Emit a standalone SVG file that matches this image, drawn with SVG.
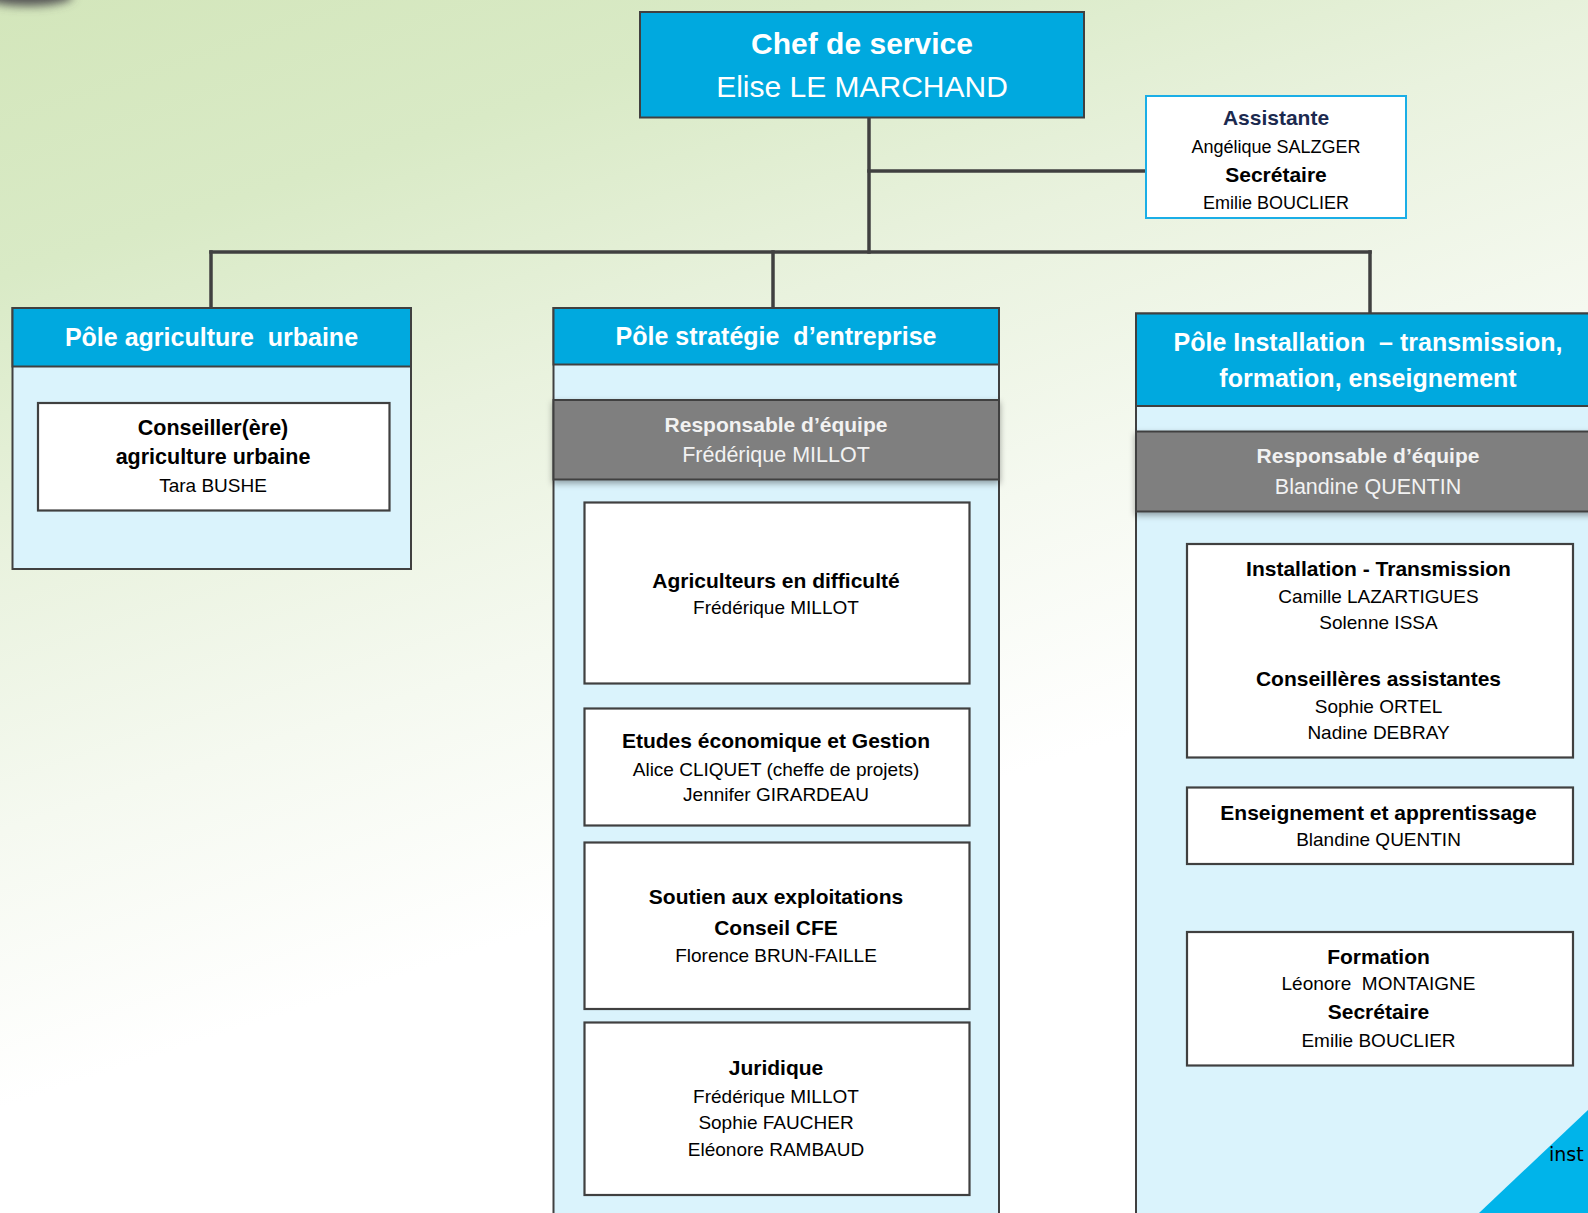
<svg xmlns="http://www.w3.org/2000/svg" width="1588" height="1213" viewBox="0 0 1588 1213">
<defs>
<linearGradient id="bg" gradientUnits="userSpaceOnUse" x1="0" y1="0" x2="330" y2="1000">
<stop offset="0" stop-color="#d3e6bb"/>
<stop offset="0.25" stop-color="#d9eac6"/>
<stop offset="0.5" stop-color="#e9f2de"/>
<stop offset="0.75" stop-color="#f5f9f0"/>
<stop offset="1" stop-color="#ffffff"/>
</linearGradient>
<filter id="blur" x="-50%" y="-100%" width="200%" height="300%"><feGaussianBlur stdDeviation="5"/></filter>
<filter id="shadow" x="-5%" y="-20%" width="110%" height="150%"><feDropShadow dx="0" dy="3" stdDeviation="3" flood-color="#000" flood-opacity="0.35"/></filter>
<style>
.t{font-family:"Liberation Sans",Arial,sans-serif;text-anchor:middle}
.b{font-weight:bold}
.w{fill:#ffffff}
.k{fill:#000000}
.bw{fill:#f2f2f2}
.hdr{fill:#00a9df;stroke:#404040;stroke-width:2}
.body{fill:#daf3fc;stroke:#404040;stroke-width:2}
.band{fill:#7f7f7f;stroke:#404040;stroke-width:2}
.box{fill:#ffffff;stroke:#404040;stroke-width:2.2}
.con{stroke:#404040;stroke-width:3.5;fill:none;stroke-linecap:square}
.f30{font-size:30px}.f25{font-size:25px}.f21{font-size:21px}.f215{font-size:21.5px}.f19{font-size:19px}.f18{font-size:18px}
</style>
</defs>
<rect x="0" y="0" width="1588" height="1213" fill="url(#bg)"/>
<ellipse cx="28" cy="-4" rx="45" ry="10" fill="#555" filter="url(#blur)"/>

<g id="connectors">
<line class="con" x1="869" y1="118" x2="869" y2="252"/>
<line class="con" x1="869" y1="171" x2="1146" y2="171"/>
<line class="con" x1="211" y1="252" x2="1370" y2="252"/>
<line class="con" x1="211" y1="252" x2="211" y2="308"/>
<line class="con" x1="773" y1="252" x2="773" y2="308"/>
<line class="con" x1="1370" y1="252" x2="1370" y2="313"/>
</g>

<g id="chef">
<rect class="hdr" x="640" y="12" width="444" height="105.5"/>
<text class="t b w f30" x="862" y="54">Chef de service</text>
<text class="t w f30" x="862" y="96.5">Elise LE MARCHAND</text>
</g>

<g id="assistante">
<rect x="1146" y="96" width="260" height="122" fill="#ffffff" stroke="#1aaee6" stroke-width="2"/>
<text class="t b f21" x="1276" y="125" fill="#1c2a4f">Assistante</text>
<text class="t k f18" x="1276" y="153">Angélique SALZGER</text>
<text class="t b k f21" x="1276" y="181.5">Secrétaire</text>
<text class="t k f18" x="1276" y="209">Emilie BOUCLIER</text>
</g>

<g id="pole-agriculture-urbaine">
<rect class="body" x="12.5" y="308" width="398.5" height="261"/>
<rect class="hdr" x="12.5" y="308" width="398.5" height="58.5"/>
<text class="t b w f25" x="211.5" y="346">Pôle agriculture &#160;urbaine</text>
</g>
<g id="conseiller-agri-urbaine">
<rect class="box" x="38" y="403" width="351.5" height="107.5"/>
<text class="t b k f215" x="213" y="435">Conseiller(ère)</text>
<text class="t b k f215" x="213" y="464">agriculture urbaine</text>
<text class="t k f19" x="213" y="491.5">Tara BUSHE</text>
</g>

<g id="pole-strategie">
<rect class="body" x="553.5" y="308" width="445.5" height="930"/>
<rect class="hdr" x="553.5" y="308" width="445.5" height="56.5"/>
<text class="t b w f25" x="776" y="345">Pôle stratégie &#160;d’entreprise</text>
</g>
<g id="resp-strategie">
<rect class="band" x="553.5" y="400" width="445.5" height="79.5" filter="url(#shadow)"/>
<text class="t b bw f21" x="776" y="432">Responsable d’équipe</text>
<text class="t bw f215" x="776" y="462">Frédérique MILLOT</text>
</g>
<g id="agriculteurs-difficulte">
<rect class="box" x="584.5" y="502.5" width="385" height="181"/>
<text class="t b k f21" x="776" y="587.5">Agriculteurs en difficulté</text>
<text class="t k f19" x="776" y="614">Frédérique MILLOT</text>
</g>
<g id="etudes-economique">
<rect class="box" x="584.5" y="708.5" width="385" height="117"/>
<text class="t b k f21" x="776" y="748">Etudes économique et Gestion</text>
<text class="t k f19" x="776" y="776">Alice CLIQUET (cheffe de projets)</text>
<text class="t k f19" x="776" y="801">Jennifer GIRARDEAU</text>
</g>
<g id="soutien-exploitations">
<rect class="box" x="584.5" y="842.5" width="385" height="166.5"/>
<text class="t b k f21" x="776" y="904">Soutien aux exploitations</text>
<text class="t b k f21" x="776" y="934.5">Conseil CFE</text>
<text class="t k f19" x="776" y="961.5">Florence BRUN-FAILLE</text>
</g>
<g id="juridique">
<rect class="box" x="584.5" y="1022.5" width="385" height="172.5"/>
<text class="t b k f21" x="776" y="1075">Juridique</text>
<text class="t k f19" x="776" y="1102.5">Frédérique MILLOT</text>
<text class="t k f19" x="776" y="1129">Sophie FAUCHER</text>
<text class="t k f19" x="776" y="1155.5">Eléonore RAMBAUD</text>
</g>

<g id="pole-installation">
<rect class="body" x="1136" y="313.5" width="480" height="930"/>
<rect class="hdr" x="1136" y="313.5" width="480" height="92.5"/>
<text class="t b w f25" x="1368" y="351">Pôle Installation &#160;– transmission,</text>
<text class="t b w f25" x="1368" y="386.5">formation, enseignement</text>
</g>
<g id="resp-installation">
<rect class="band" x="1136" y="431.5" width="480" height="80" filter="url(#shadow)"/>
<text class="t b bw f21" x="1368" y="463">Responsable d’équipe</text>
<text class="t bw f215" x="1368" y="494">Blandine QUENTIN</text>
</g>
<g id="installation-transmission">
<rect class="box" x="1187" y="544" width="386" height="213.5"/>
<text class="t b k f21" x="1378.5" y="576">Installation - Transmission</text>
<text class="t k f19" x="1378.5" y="603">Camille LAZARTIGUES</text>
<text class="t k f19" x="1378.5" y="629">Solenne ISSA</text>
<text class="t b k f21" x="1378.5" y="685.5">Conseillères assistantes</text>
<text class="t k f19" x="1378.5" y="712.5">Sophie ORTEL</text>
<text class="t k f19" x="1378.5" y="739">Nadine DEBRAY</text>
</g>
<g id="enseignement">
<rect class="box" x="1187" y="787.5" width="386" height="76.5"/>
<text class="t b k f21" x="1378.5" y="820">Enseignement et apprentissage</text>
<text class="t k f19" x="1378.5" y="846">Blandine QUENTIN</text>
</g>
<g id="formation">
<rect class="box" x="1187" y="932" width="386" height="133.5"/>
<text class="t b k f21" x="1378.5" y="964">Formation</text>
<text class="t k f19" x="1378.5" y="990">Léonore &#160;MONTAIGNE</text>
<text class="t b k f21" x="1378.5" y="1019">Secrétaire</text>
<text class="t k f19" x="1378.5" y="1046.5">Emilie BOUCLIER</text>
</g>

<polygon points="1479,1213 1588,1110 1588,1213" fill="#00b4ea"/>
<text x="1549" y="1161" font-family="DejaVu Sans, sans-serif" font-size="19" fill="#000">inst</text>
</svg>
